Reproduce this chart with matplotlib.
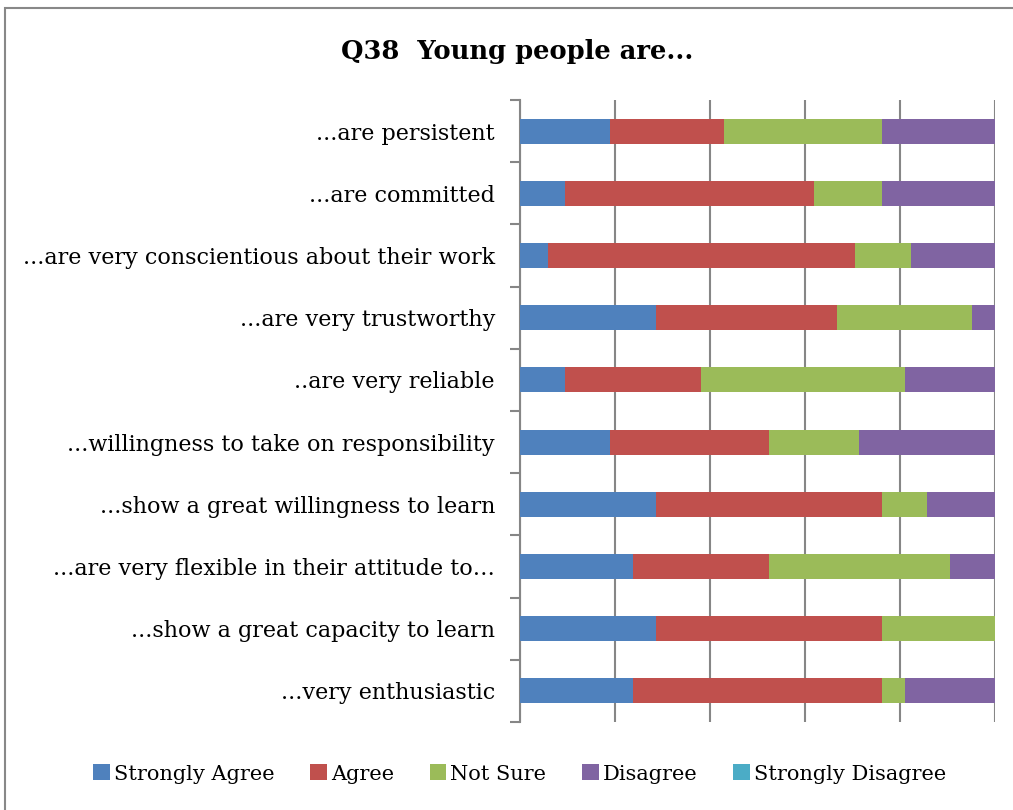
import matplotlib
matplotlib.use("Agg")
import matplotlib.pyplot as plt
from matplotlib.patches import Rectangle, Patch
import numpy as np

plt.rcParams['font.family'] = ['DejaVu Serif']

categories = [
    "...are persistent",
    "...are committed",
    "...are very conscientious about their work",
    "...are very trustworthy",
    "..are very reliable",
    "...willingness to take on responsibility",
    "...show a great willingness to learn",
    "...are very flexible in their attitude to\u2026",
    "...show a great capacity to learn",
    "...very enthusiastic",
]
responses = ["Strongly Agree", "Agree", "Not Sure", "Disagree", "Strongly Disagree"]

# response counts per statement
strongly_agree    = [4, 2, 1, 6, 2, 4, 6, 5, 6, 5]
agree             = [5, 11, 11, 8, 6, 7, 10, 6, 10, 11]
not_sure          = [7, 3, 2, 6, 9, 4, 2, 8, 5, 1]
disagree          = [5, 5, 3, 1, 4, 6, 3, 2, 0, 4]
strongly_disagree = [0, 0, 0, 0, 0, 0, 0, 0, 0, 0]

colors = ["#4F81BD", "#C0504D", "#9BBB59", "#8064A2", "#4BACC6"]

counts = np.array([strongly_agree, agree, not_sure, disagree, strongly_disagree], dtype=float)
shares = counts / counts.sum(axis=0)

fig = plt.figure(figsize=(10.13, 8.1), dpi=100)
top = 1 - 8 / 810
fig.patches.append(Rectangle((0.0049, -0.1), 1.2, top + 0.1,
                             transform=fig.transFigure, fill=False,
                             edgecolor="#888888", linewidth=1.5))
ax = fig.add_axes([520 / 1013, 1 - 722 / 810, 475 / 1013, 622 / 810])

y = np.arange(len(categories))
left = np.zeros(len(categories))
for i, name in enumerate(responses):
    ax.barh(y, shares[i], left=left, height=0.4, color=colors[i], label=name,
            linewidth=0, zorder=3)
    left += shares[i]

ax.set_xlim(0, 1)
ax.set_ylim(len(categories) - 0.5, -0.5)
ax.set_xticks(np.linspace(0, 1, 6))
ax.set_xticklabels([])
ax.tick_params(axis="x", length=0)
ax.grid(axis="x", color="#868686", linewidth=1.5, zorder=0)

ax.set_yticks(y)
ax.set_yticklabels(categories, fontsize=16)
ax.tick_params(axis="y", which="major", length=0, pad=18)
ax.set_yticks(np.arange(-0.5, len(categories)), minor=True)
ax.tick_params(axis="y", which="minor", length=7, width=1.5, color="#868686")

for side in ["top", "right", "bottom"]:
    ax.spines[side].set_visible(False)
ax.spines["left"].set_color("#868686")
ax.spines["left"].set_linewidth(1.5)

fig.text(0.511, 1 - 51 / 810, "Q38  Young people are...", ha="center", va="center",
         fontsize=18.5, fontweight="bold")

handles = [Patch(facecolor=c, edgecolor="none") for c in colors]
fig.legend(handles, responses, loc="center", bbox_to_anchor=(0.513, 1 - 774 / 810),
           ncol=5, frameon=False, fontsize=15, handlelength=0.8, handleheight=0.8,
           handletextpad=0.2, columnspacing=1.7)

fig.savefig("out.png", dpi=100)
